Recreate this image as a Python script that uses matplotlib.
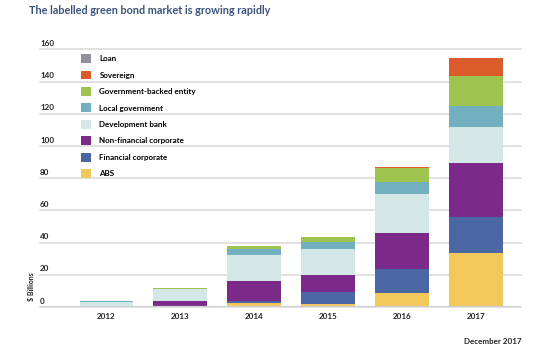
import matplotlib
matplotlib.use("Agg")
import matplotlib.pyplot as plt
from matplotlib.patches import Patch
import numpy as np

years = ["2012", "2013", "2014", "2015", "2016", "2017"]
categories = ["ABS", "Financial corporate", "Non-financial corporate", "Development bank",
              "Local government", "Government-backed entity", "Sovereign", "Loan"]
abs_ = [0.0, 0.3, 2.5, 2.1, 8.5, 33.5]
fin = [0.5, 0.3, 1.2, 7.2, 15.3, 22.5]
nonfin = [0.1, 3.3, 12.4, 10.8, 22.4, 33.2]
dev = [2.3, 7.4, 16.2, 15.7, 24.0, 22.6]
local = [0.6, 0.0, 3.7, 4.4, 7.2, 12.8]
govback = [0.0, 0.7, 1.9, 3.1, 8.7, 18.7]
sov = [0.0, 0.0, 0.0, 0.0, 1.1, 11.3]
loan = [0.0, 0.0, 0.0, 0.0, 0.0, 0.0]
series = [abs_, fin, nonfin, dev, local, govback, sov, loan]
colors = ["#f2c75c", "#4a67a3", "#7b2a89", "#d3e8e6", "#72afbf", "#9cc44f", "#dc5b2b", "#8f909c"]
yticks = [0, 20, 40, 60, 80, 100, 120, 140, 160]

plt.rcParams['font.family'] = ['Lato', 'DejaVu Sans']
fig = plt.figure(figsize=(5.5, 3.5), dpi=100)
ax = fig.add_axes([40/550, 1-307/350, 481/550, (307-49.3)/350])

x = np.arange(len(years))
bottom = np.zeros(len(years))
for vals, c, lab in zip(series, colors, categories):
    ax.bar(x, vals, 0.73, bottom=bottom, color=c, label=lab, zorder=3, linewidth=0)
    bottom += np.array(vals)

ax.set_xlim(-0.9, 5.61)
ax.set_ylim(0, 160)
for s in ax.spines.values():
    s.set_visible(False)
ax.set_yticks(yticks)
ax.set_yticklabels([])
ax.tick_params(axis='y', length=0)
ax.grid(axis='y', color='#dcdcdc', linewidth=1.2, zorder=0)
for t in ax.get_ygridlines():
    t.set_clip_on(False)
for v in yticks:
    ax.text(0.0, v + 1.5, str(v), transform=ax.get_yaxis_transform(), ha='left', va='bottom',
            fontsize=5.8, fontweight='bold', color='#222222')
ax.axhline(0, color='#d0d0d0', linewidth=1.6, zorder=4)

ax.set_xticks(x)
ax.set_xticklabels(years, fontsize=5.8, fontweight='bold', color='#222222')
ax.tick_params(axis='x', length=0, pad=4)

handles = [Patch(facecolor=c, edgecolor='none') for c in colors][::-1]
ax.legend(handles, categories[::-1], loc='upper left', bbox_to_anchor=(0.075, 1.0),
          frameon=False, prop={'size': 5.8, 'weight': 'bold'}, handlelength=1.3,
          handleheight=1.3, labelspacing=0.95, handletextpad=1.0, borderaxespad=0.2)

fig.text(29/550, 1-11/350, "The labelled green bond market is growing rapidly", ha='left', va='center',
         fontsize=7.8, fontweight='bold', color='#3b5479')
fig.text(32/550, 1-287/350, "$ Billions", rotation=90, ha='center', va='center',
         fontsize=5, fontweight='bold', color='#222222')
fig.text(521/550, 1-341/350, "December 2017", ha='right', va='center',
         fontsize=5.8, fontweight='bold', color='#222222')

fig.savefig("out.png", dpi=100)
